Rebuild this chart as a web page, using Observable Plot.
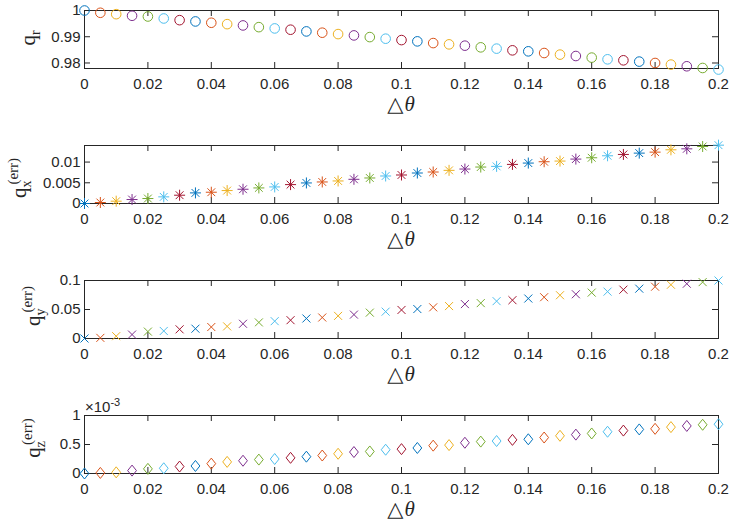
<!DOCTYPE html>
<html><head><meta charset="utf-8">
<script src="https://cdn.jsdelivr.net/npm/d3@7"></script>
<script src="https://cdn.jsdelivr.net/npm/@observablehq/plot@0.6"></script>
<style>
body{margin:0;background:#fff;overflow:hidden}
#chart{position:relative;width:732px;height:521px;background:#fff}
#chart svg{position:absolute;left:0;overflow:visible}
</style></head><body><div id="chart"></div>
<script>
// Δθ sample positions
const dtheta = [0,0.005,0.01,0.015,0.02,0.025,0.03,0.035,0.04,0.045,0.05,0.055,0.06,0.065,0.07,0.075,0.08,0.085,0.09,0.095,0.1,0.105,0.11,0.115,0.12,0.125,0.13,0.135,0.14,0.145,0.15,0.155,0.16,0.165,0.17,0.175,0.18,0.185,0.19,0.195,0.2];
const qr = [1.0000,0.99913,0.99860,0.99799,0.99772,0.99696,0.99632,0.99583,0.99533,0.99480,0.99431,0.99366,0.99317,0.99268,0.99203,0.99154,0.99101,0.99051,0.98987,0.98926,0.98873,0.98824,0.98759,0.98710,0.98660,0.98596,0.98547,0.98482,0.98444,0.98380,0.98319,0.98266,0.98205,0.98140,0.98102,0.98053,0.98000,0.97939,0.97875,0.97810,0.97750];
const qxErr = [0,0.00024,0.00056,0.00096,0.0012,0.0016,0.002,0.00256,0.00272,0.00312,0.00344,0.00376,0.004,0.00456,0.00496,0.0052,0.00544,0.00584,0.00616,0.00664,0.00688,0.00736,0.0076,0.008,0.00832,0.0088,0.00896,0.00944,0.00976,0.01008,0.01024,0.01072,0.01104,0.01152,0.01184,0.01216,0.0124,0.01296,0.0132,0.01376,0.01408];
const qyErr = [0,0.0011,0.0040,0.0068,0.0119,0.0130,0.0158,0.0169,0.0198,0.0209,0.0254,0.0277,0.0299,0.0316,0.0345,0.0362,0.0390,0.0412,0.0446,0.0463,0.0492,0.0508,0.0537,0.0559,0.0593,0.0610,0.0644,0.0661,0.0689,0.0712,0.0746,0.0763,0.0791,0.0808,0.0842,0.0859,0.0893,0.0927,0.0944,0.0972,0.1000];
// q_z error in units of 1e-3
const qzErr = [0,0.01,0.02,0.05,0.08,0.09,0.12,0.13,0.17,0.2,0.22,0.24,0.25,0.27,0.29,0.31,0.34,0.37,0.38,0.41,0.42,0.44,0.48,0.49,0.53,0.55,0.56,0.58,0.59,0.62,0.65,0.67,0.69,0.72,0.74,0.76,0.77,0.8,0.82,0.84,0.85];
const colors = ["#0072BD","#D95319","#EDB120","#7E2F8E","#77AC30","#4DBEEE","#A2142F"];
const xTicks = [0,0.02,0.04,0.06,0.08,0.1,0.12,0.14,0.16,0.18,0.2];
const xTickLabels = ["0","0.02","0.04","0.06","0.08","0.1","0.12","0.14","0.16","0.18","0.2"];
const y1Ticks = [0.98,0.99,1], y1Labels = ["0.98","0.99","1"];
const y2Ticks = [0,0.005,0.01], y2Labels = ["0","0.005","0.01"];
const y3Ticks = [0,0.05,0.1], y3Labels = ["0","0.05","0.1"];
const y4Ticks = [0,0.5,1], y4Labels = ["0","0.5","1"];

// marker shapes (MATLAB-like)
const symCircle = {draw(c,s){const r=Math.sqrt(s/Math.PI);c.moveTo(r,0);c.arc(0,0,r,0,2*Math.PI);}};
const symAst = {draw(c,s){const r=Math.sqrt(s/Math.PI);for(const a of [0,45,90,135]){const t=a*Math.PI/180;c.moveTo(-r*Math.cos(t),-r*Math.sin(t));c.lineTo(r*Math.cos(t),r*Math.sin(t));}}};
const symTimes = {draw(c,s){const r=Math.sqrt(s/Math.PI);c.moveTo(-r,-r);c.lineTo(r,r);c.moveTo(-r,r);c.lineTo(r,-r);}};
const symDiamond = {draw(c,s){const r=Math.sqrt(s/Math.PI);const w=r*0.8;c.moveTo(0,-r);c.lineTo(w,0);c.lineTo(0,r);c.lineTo(-w,0);c.closePath();}};

const W = 732, ML = 84, MR = 14, PH = 58, PW = W-ML-MR;
const root = document.getElementById("chart");
const ink = "#262626";

function panel({top, height, yDomain, yTicks, yLabels, values, symbol, r, label, exp}) {
  const data = dtheta.map((x,i)=>({x, y: values[i], c: colors[i%7]}));
  const xl = new Map(xTicks.map((t,i)=>[t,xTickLabels[i]]));
  const yl = new Map(yTicks.map((t,i)=>[t,yLabels[i]]));
  const svg = Plot.plot({
    width: W, height, marginLeft: ML, marginRight: MR, marginTop: 10, marginBottom: height-10-PH,
    style: {fontFamily:"'Liberation Sans', Arial, sans-serif", fontSize:"15px", color: ink, background:"transparent", overflow:"visible"},
    x: {domain:[0,0.2]},
    y: {domain: yDomain},
    color: {type:"identity"},
    marks: [
      Plot.frame({stroke: ink, strokeWidth: 1}),
      Plot.tickX(xTicks, {x: d=>d, insetTop: PH-6, stroke: ink}),
      Plot.tickX(xTicks, {x: d=>d, insetBottom: PH-6, stroke: ink}),
      Plot.tickY(yTicks, {y: d=>d, insetRight: PW-6, stroke: ink}),
      Plot.tickY(yTicks, {y: d=>d, insetLeft: PW-6, stroke: ink}),
      Plot.axisX(xTicks, {tickSize:0, tickPadding:10, tickFormat: d=>xl.get(d), label:null, fill: ink}),
      Plot.axisY(yTicks, {tickSize:0, tickPadding:4, tickFormat: d=>yl.get(d), label:null, fill: ink}),
      Plot.dot(data, {x:"x", y:"y", r, symbol, stroke:"c", fill:"none", strokeWidth:1})
    ]
  });
  svg.style.top = top + "px";
  const s = d3.select(svg);
  // x label
  const xt = s.append("text").attr("x", ML+PW/2).attr("y", 10+PH+43).attr("text-anchor","middle")
    .attr("font-family","'Liberation Serif','DejaVu Serif',serif").attr("font-size",21).attr("fill", ink);
  xt.append("tspan").text("△");
  xt.append("tspan").attr("font-style","italic").attr("dx",1).text("θ");
  // y label (rotated, centred on label.cy)
  const yt = s.append("text").attr("transform",`translate(${label.bx},${label.cy}) rotate(-90)`)
    .attr("text-anchor","middle")
    .attr("font-family","'Liberation Serif','DejaVu Serif',serif").attr("fill", ink);
  yt.append("tspan").attr("font-size",21).text("q");
  yt.append("tspan").attr("font-size",14).attr("dy",5).text(label.sub);
  if (label.sup) yt.append("tspan").attr("font-size",15).attr("dx",-4).attr("dy",-13).text(label.sup);
  if (exp) {
    const et = s.append("text").attr("x", ML+1).attr("y", 7).attr("text-anchor","start").attr("fill", ink);
    et.append("tspan").text("×10");
    et.append("tspan").attr("font-size",11).attr("dy",-6).text(exp);
  }
  root.appendChild(svg);
}

panel({top:0, height:135, yDomain:[0.9779,1.0], yTicks:y1Ticks, yLabels:y1Labels, values:qr, symbol:symCircle, r:4.8, label:{bx:35, cy:38, sub:"r"}});
panel({top:135, height:135, yDomain:[0,0.014], yTicks:y2Ticks, yLabels:y2Labels, values:qxErr, symbol:symAst, r:5.5, label:{bx:26, cy:43, sub:"x", sup:"(err)"}});
panel({top:270, height:135, yDomain:[0,0.1], yTicks:y3Ticks, yLabels:y3Labels, values:qyErr, symbol:symTimes, r:4, label:{bx:40, cy:36, sub:"y", sup:"(err)"}});
panel({top:405, height:116, yDomain:[0,1], yTicks:y4Ticks, yLabels:y4Labels, values:qzErr, symbol:symDiamond, r:5.5, label:{bx:40, cy:33, sub:"z", sup:"(err)"}, exp:"-3"});
</script>
</body></html>
